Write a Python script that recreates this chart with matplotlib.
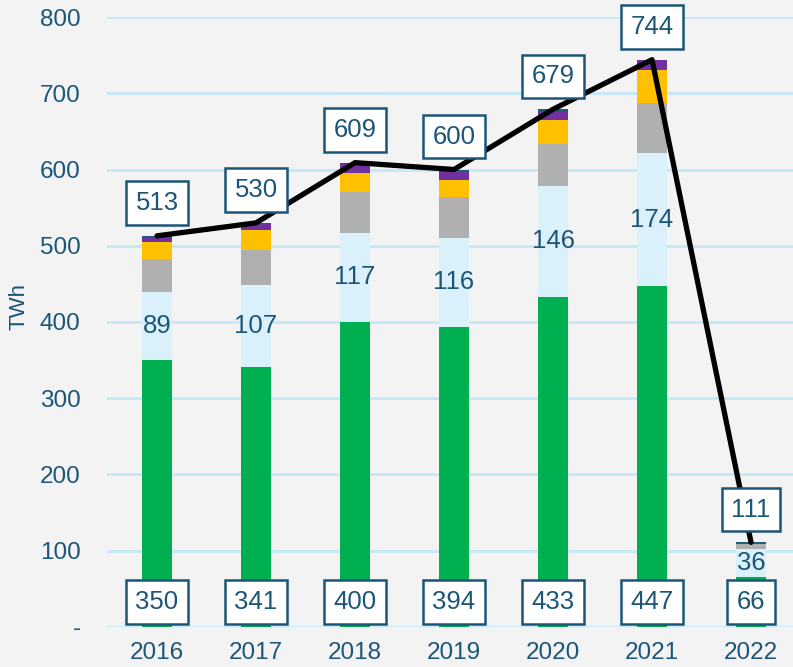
import matplotlib.pyplot as plt
import numpy as np

plt.rcParams['font.family'] = ['Liberation Sans', 'DejaVu Sans']

# 数据
years = ['2016', '2017', '2018', '2019', '2020', '2021', '2022']
green = [350, 341, 400, 394, 433, 447, 66]
light_blue = [89, 107, 117, 116, 146, 174, 36]
gray = [44, 47, 53, 54, 54, 66, 7]
yellow = [22, 26, 25, 22, 32, 43, 0]
purple = [7, 8, 12, 12, 11, 13, 1]
dark_top = [1, 1, 2, 2, 3, 1, 1]
totals = [513, 530, 609, 600, 679, 744, 111]

txt_col = '#1B5577'
bg = '#F3F3F3'

fig = plt.figure(figsize=(7.93, 6.67), dpi=100, facecolor=bg)
ax = fig.add_axes([0.135, 0.060, 0.865, 0.9145])
ax.set_facecolor(bg)

x = np.arange(len(years))
w = 0.3
series = [(green, '#00B050'), (light_blue, '#DAF1FC'), (gray, '#B0B0B0'),
          (yellow, '#FFC000'), (purple, '#7030A0'), (dark_top, '#1F5C7A')]
bottom = np.zeros(len(years))
for vals, col in series:
    ax.bar(x, vals, w, bottom=bottom, color=col, zorder=2)
    bottom += np.array(vals)

# 总量折线
ax.plot(x, totals, color='black', lw=3.8, zorder=3, solid_capstyle='round')

box = dict(boxstyle='square,pad=0.38', fc='white', ec=txt_col, lw=1.8)
fs = 18.5
for i in range(len(years)):
    # 总量
    ax.text(x[i], totals[i] + 43, str(totals[i]), ha='center', va='center',
            fontsize=fs, color=txt_col, bbox=box, zorder=5, clip_on=False)
    # 绿色
    ax.text(x[i], 33, str(green[i]), ha='center', va='center',
            fontsize=fs, color=txt_col, bbox=box, zorder=5)
    # 浅蓝
    ax.text(x[i], green[i] + light_blue[i] / 2, str(light_blue[i]),
            ha='center', va='center', fontsize=fs, color=txt_col, zorder=4)

ax.set_xlim(-0.505, 6.424)
ax.set_ylim(0, 800)
ax.set_yticks(range(0, 801, 100))
ax.set_yticklabels(['-'] + [str(v) for v in range(100, 801, 100)])
ax.set_xticks(x)
ax.set_xticklabels(years)
ax.tick_params(axis='both', length=0, labelsize=17.5, colors=txt_col)
ax.tick_params(axis='y', pad=19)
ax.tick_params(axis='x', pad=11)
ax.grid(axis='y', color='#C5E8F7', lw=2, zorder=0)
for s in ax.spines.values():
    s.set_visible(False)
ax.set_ylabel('TWh', color=txt_col, fontsize=16)
ax.yaxis.set_label_coords(-0.113, 0.525)

plt.savefig('out.png', dpi=100, facecolor=bg)
